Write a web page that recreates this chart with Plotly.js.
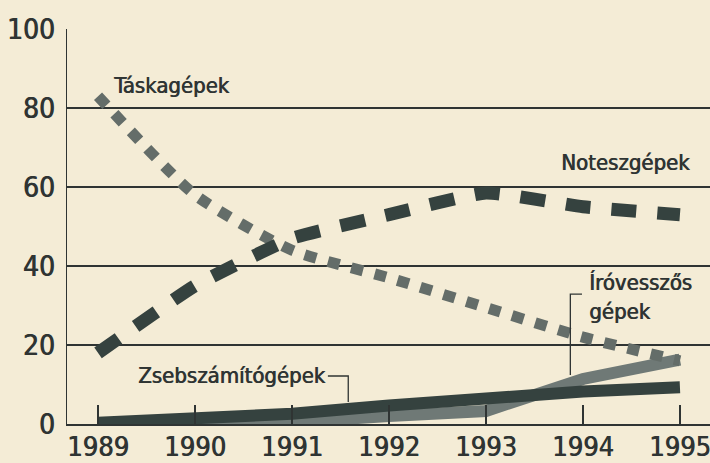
<!DOCTYPE html>
<html>
<head>
<meta charset="utf-8">
<script src="https://cdn.plot.ly/plotly-3.0.1.min.js"></script>
<style>
html,body{margin:0;padding:0;background:#f4ecd6;}
#chart{width:710px;height:463px;}
</style>
</head>
<body>
<div id="chart"></div>
<script>
// Data (percent share by year)
var years = [1989, 1990, 1991, 1992, 1993, 1994, 1995];
var taskagepek = [83, 58, 44, 37, 29.5, 22, 16];
var noteszgepek = [18, 35, 47, 53, 58.5, 55, 53];
var zsebszamitogepek = [0.3, 1.1, 2.6, 4.7, 6.8, 8.2, 9.3];
var irovesszos = [0, 0, 0.5, 2, 3.3, 11.4, 16.3];
var yTicks = [0, 20, 40, 60, 80, 100];
var xTickLabels = ['1989', '1990', '1991', '1992', '1993', '1994', '1995'];

var FONT = '"Liberation Sans Narrow", "DejaVu Sans Condensed", "Liberation Sans", Arial, sans-serif';
var INK = '#2f3433';
var HEAVY = '0.7px 0px 0px #2f3433';

var traces = [
  {x: years, y: irovesszos, mode: 'lines', line: {color: '#6f7976', width: 12}, hoverinfo: 'skip'},
  {x: years, y: zsebszamitogepek, mode: 'lines', line: {color: '#35423f', width: 12}, hoverinfo: 'skip'},
  {x: years, y: taskagepek, mode: 'lines', line: {color: '#646d69', width: 11, dash: '12px,12px', shape: 'spline', smoothing: 0.6}, hoverinfo: 'skip'},
  {x: years, y: noteszgepek, mode: 'lines', line: {color: '#35423f', width: 13, dash: '25px,21px', shape: 'spline', smoothing: 0.4}, hoverinfo: 'skip'}
];

var layout = {
  width: 710, height: 463,
  margin: {l: 67, r: 0, t: 29, b: 39, pad: 0},
  paper_bgcolor: '#f4ecd6',
  plot_bgcolor: '#f4ecd6',
  showlegend: false,
  font: {family: FONT, color: INK},
  xaxis: {
    range: [1988.68, 1995.31],
    tickmode: 'array', tickvals: years, ticktext: xTickLabels,
    ticks: 'inside', ticklen: 19, tickwidth: 1.5, tickcolor: INK,
    showline: true, linecolor: INK, linewidth: 1.5,
    showgrid: false, zeroline: false,
    ticklabeloverflow: 'allow',
    ticklabelstandoff: -2,
    tickfont: {family: FONT, size: 27, color: INK, shadow: HEAVY},
    fixedrange: true
  },
  yaxis: {
    range: [0, 100],
    tickmode: 'array', tickvals: yTicks, ticktext: yTicks.map(String),
    ticks: '', showline: true, linecolor: INK, linewidth: 1.5,
    showgrid: true, gridcolor: INK, gridwidth: 1.5,
    zeroline: false,
    ticklabeloverflow: 'allow',
    ticklabelstandoff: 5,
    tickfont: {family: FONT, size: 28, color: INK, shadow: HEAVY},
    fixedrange: true
  },
  annotations: [
    {x: 1989.76, y: 85.8, xref: 'x', yref: 'y', text: 'Táskagépek', showarrow: false, xanchor: 'center', yanchor: 'middle', font: {family: FONT, size: 22, color: INK, shadow: HEAVY}},
    {x: 1994.44, y: 66.1, xref: 'x', yref: 'y', text: 'Noteszgépek', showarrow: false, xanchor: 'center', yanchor: 'middle', font: {family: FONT, size: 22, color: INK, shadow: HEAVY}},
    {x: 1990.38, y: 12.4, xref: 'x', yref: 'y', text: 'Zsebszámítógépek', showarrow: false, xanchor: 'center', yanchor: 'middle', font: {family: FONT, size: 22, color: INK, shadow: HEAVY}},
    {x: 1994.04, y: 32.1, xref: 'x', yref: 'y', text: 'Íróvesszős<br>gépek', showarrow: false, xanchor: 'left', yanchor: 'middle', align: 'left', font: {family: FONT, size: 22, color: INK, shadow: HEAVY}}
  ],
  shapes: [
    {type: 'path', xref: 'x', yref: 'y', path: 'M 1991.37 12.15 L 1991.58 12.15 L 1991.58 5.57', line: {color: INK, width: 1.3}},
    {type: 'path', xref: 'x', yref: 'y', path: 'M 1993.99 32.9 L 1993.87 32.9 L 1993.87 12.4', line: {color: INK, width: 1.3}}
  ]
};

Plotly.newPlot('chart', traces, layout, {displayModeBar: false, staticPlot: true});
</script>
</body>
</html>
